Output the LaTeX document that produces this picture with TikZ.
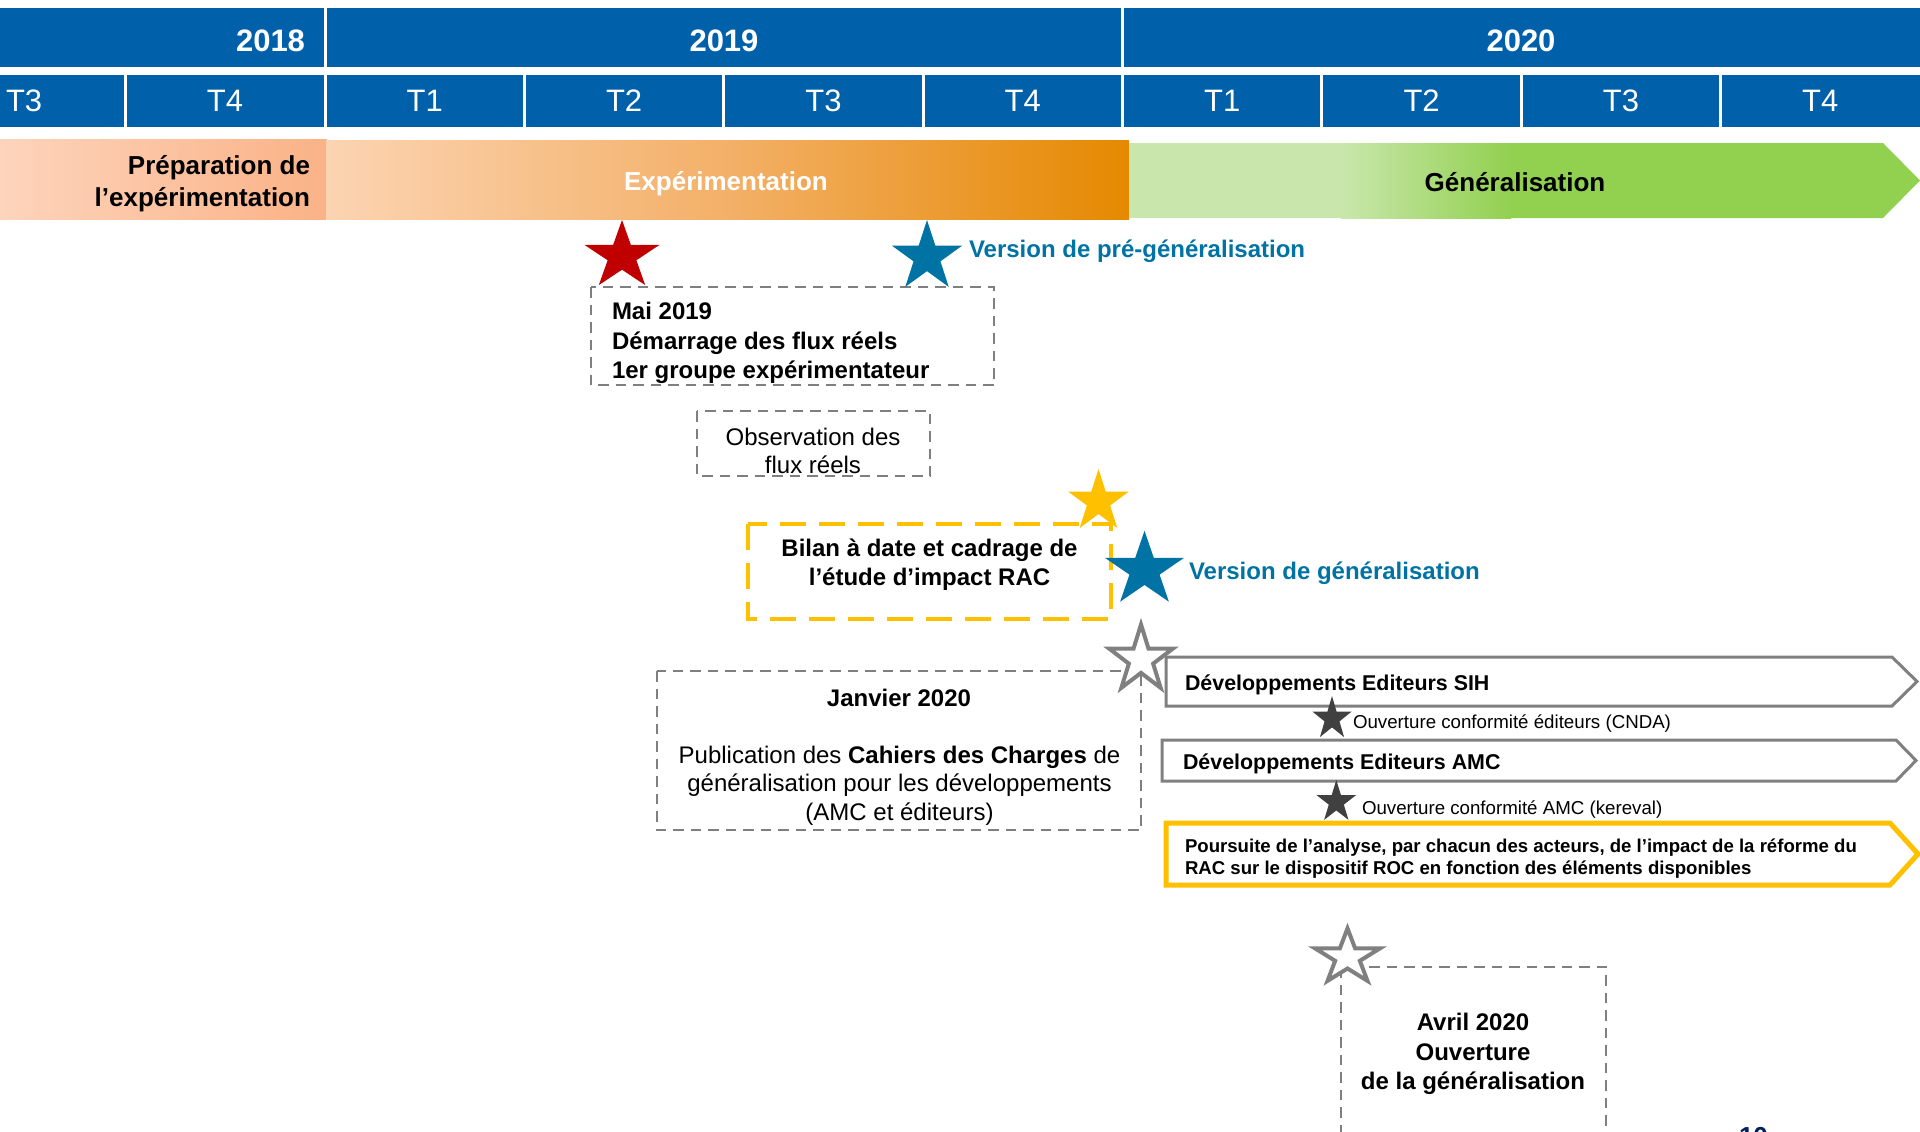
\documentclass[tikz,border=0pt]{standalone}
\usepackage{fontspec}
\setmainfont{Liberation Sans}
\definecolor{hdr}{RGB}{0,96,170}
\definecolor{sblue}{RGB}{0,115,165}
\definecolor{syel}{RGB}{255,192,0}
\definecolor{sred}{RGB}{192,0,0}
\definecolor{gol}{RGB}{128,128,128}
\definecolor{gdash}{RGB}{127,127,127}
\definecolor{sdark}{RGB}{64,64,64}
\definecolor{navy}{RGB}{0,32,96}
\definecolor{prepL}{RGB}{253,212,188}
\definecolor{prepR}{RGB}{250,178,134}
\definecolor{expL}{RGB}{252,212,178}
\definecolor{expM}{RGB}{243,176,104}
\definecolor{expR}{RGB}{229,137,0}
\definecolor{genL}{RGB}{201,231,172}
\definecolor{genR}{RGB}{146,208,80}
\tikzset{
 every node/.style={inner sep=0pt,outer sep=0pt},
 yrtxt/.style={text=white,font=\fontsize{31}{37}\selectfont\bfseries},
 qtxt/.style={text=white,font=\fontsize{31}{37}\selectfont},
 phasetxt/.style={font=\fontsize{26}{32}\selectfont\bfseries},
 bluetxt/.style={text=sblue,font=\fontsize{24}{29}\selectfont\bfseries},
 bodyb/.style={font=\fontsize{24}{29.3}\selectfont\bfseries},
 bodyr/.style={font=\fontsize{24}{28.5}\selectfont},
 devtxt/.style={font=\fontsize{21.4}{25}\selectfont\bfseries},
 smalltxt/.style={font=\fontsize{18.7}{22}\selectfont},
 grayDash/.style={draw=gdash,line width=2.5pt,dash pattern=on 10.5pt off 7pt},
 yelDash/.style={draw=syel,line width=4pt,dash pattern=on 26pt off 13pt},
 starpic/.pic={\path[pic actions] (0,-1) -- (-0.2245,-0.309) -- (-0.9511,-0.309) -- (-0.3633,0.118) -- (-0.5878,0.809) -- (0,0.382) -- (0.5878,0.809) -- (0.3633,0.118) -- (0.9511,-0.309) -- (0.2245,-0.309) -- cycle;}
}
\begin{document}
\begin{tikzpicture}[x=1pt,y=-1pt]
\useasboundingbox (0,0) rectangle (1920,1132);
\fill[white] (0,0) rectangle (1920,1132);
% header
\foreach \a/\b in {0/323.5,326.5/1121,1124/1920}
  \fill[hdr] (\a,8) rectangle (\b,67);
\foreach \a/\b in {0/124.1,127.1/323.5,326.5/522.9,525.9/722.3,725.3/921.6,924.6/1121,1124/1320.4,1323.4/1519.8,1522.8/1719.1,1722.1/1920}
  \fill[hdr] (\a,75) rectangle (\b,127);
\node[yrtxt,anchor=east] (y2018) at (305,40.5) {2018};
\node[yrtxt] (y2019) at (724,40.5) {2019};
\node[yrtxt] (y2020) at (1521,40.5) {2020};
\node[qtxt,anchor=west] (q1) at (6,101) {T3};
\node[qtxt] (q2) at (225,101) {T4};
\node[qtxt] (q3) at (424.7,101) {T1};
\node[qtxt] (q4) at (624.1,101) {T2};
\node[qtxt] (q5) at (823.5,101) {T3};
\node[qtxt] (q6) at (1022.8,101) {T4};
\node[qtxt] (q7) at (1222.2,101) {T1};
\node[qtxt] (q8) at (1421.6,101) {T2};
\node[qtxt] (q9) at (1621,101) {T3};
\node[qtxt] (q10) at (1820.3,101) {T4};
% phase bar
\shade[left color=prepL,right color=prepR] (0,139) rectangle (327,219);
\shade[left color=expL,right color=expM] (326,140) rectangle (727,219);
\shade[left color=expM,right color=expR] (726.5,140) rectangle (1129,219);
\fill[genL] (1129,143) rectangle (1341,218);
\shade[left color=genL,right color=genR] (1340.5,143) rectangle (1511,218);
\fill[genR] (1510.5,143) -- (1883,143) -- (1920,180.5) -- (1883,218) -- (1510.5,218) -- cycle;
\node[phasetxt,anchor=east,align=right] (prep) at (310,183.2) {Préparation de\\l’expérimentation};
\node[phasetxt,text=white] (exp) at (726,183.5) {Expérimentation};
\node[phasetxt] (gen) at (1515,182) {Généralisation};
% boxes
\draw[grayDash] (591,287) rectangle (994,385);
\node[bodyb,anchor=west,align=left] (mai) at (612,343) {Mai 2019\\Démarrage des flux réels\\1er groupe expérimentateur};
\draw[grayDash] (697,411) rectangle (930,476);
\node[bodyr,align=center] (obs) at (813,451) {Observation des\\flux réels};
\draw[yelDash] (748,524) rectangle (1111,619);
\node[bodyb,align=center] (bilan) at (929.5,564.5) {Bilan à date et cadrage de\\l’étude d’impact RAC};
\draw[grayDash] (657,671) rectangle (1141,830);
\node[bodyb] (jant) at (899,698) {Janvier 2020};
\node[bodyr,align=center] (janb) at (899.5,785.5) {Publication des \textbf{Cahiers des Charges} de\\généralisation pour les développements\\(AMC et éditeurs)};
\draw[grayDash] (1341,967) rectangle (1606,1150);
\node[bodyb,align=center] (avril) at (1473,1054) {Avril 2020\\Ouverture\\de la généralisation};
% arrows
\draw[draw=gol,fill=white,line width=3pt] (1166,657) -- (1892,657) -- (1917,681.5) -- (1892,706) -- (1166,706) -- cycle;
\node[devtxt,anchor=west] (sih) at (1185,685) {Développements Editeurs SIH};
\draw[draw=gol,fill=white,line width=3pt] (1162,740) -- (1896,740) -- (1916,760.5) -- (1896,781) -- (1162,781) -- cycle;
\node[devtxt,anchor=west] (amc) at (1183,763.5) {Développements Editeurs AMC};
\draw[draw=syel,fill=white,line width=5pt] (1166,823) -- (1890,823) -- (1918,854) -- (1890,885) -- (1166,885) -- cycle;
\node[font=\fontsize{18.6}{21.8}\selectfont\bfseries,anchor=west,align=left] (pours) at (1185,858.5) {Poursuite de l’analyse, par chacun des acteurs, de l’impact de la réforme du\\RAC sur le dispositif ROC en fonction des éléments disponibles};
% stars
\pic[fill=sred,xscale=39.5,yscale=36] (s1) at (622,256) {starpic};
\pic[fill=sblue,xscale=37,yscale=37] (s2) at (927,257) {starpic};
\node[bluetxt,anchor=west] (vpre) at (969,251) {Version de pré-généralisation};
\pic[fill=syel,xscale=32,yscale=32.6] (s3) at (1098.5,501.6) {starpic};
\pic[fill=sblue,xscale=41.5,yscale=39.2] (s4) at (1144.5,570) {starpic};
\node[bluetxt,anchor=west] (vgen) at (1189,573) {Version de généralisation};
\pic[draw=gol,fill=white,line width=4pt,xscale=33.4,yscale=35] (s5) at (1141,659.5) {starpic};
\pic[fill=sdark,xscale=20.5,yscale=22.7] (s6) at (1332,718.7) {starpic};
\node[smalltxt,anchor=west] (cnda) at (1353,723.5) {Ouverture conformité éditeurs (CNDA)};
\pic[fill=sdark,xscale=20.7,yscale=22.1] (s7) at (1336.3,802) {starpic};
\node[smalltxt,anchor=west] (kere) at (1362,809.5) {Ouverture conformité AMC (kereval)};
\pic[draw=gol,fill=white,line width=4pt,xscale=34,yscale=29] (s8) at (1347.5,957.4) {starpic};
% page number
\node[font=\fontsize{26}{30}\selectfont\bfseries,text=navy,anchor=base west] (pnum) at (1739,1145.6) {10};
\end{tikzpicture}
\end{document}
